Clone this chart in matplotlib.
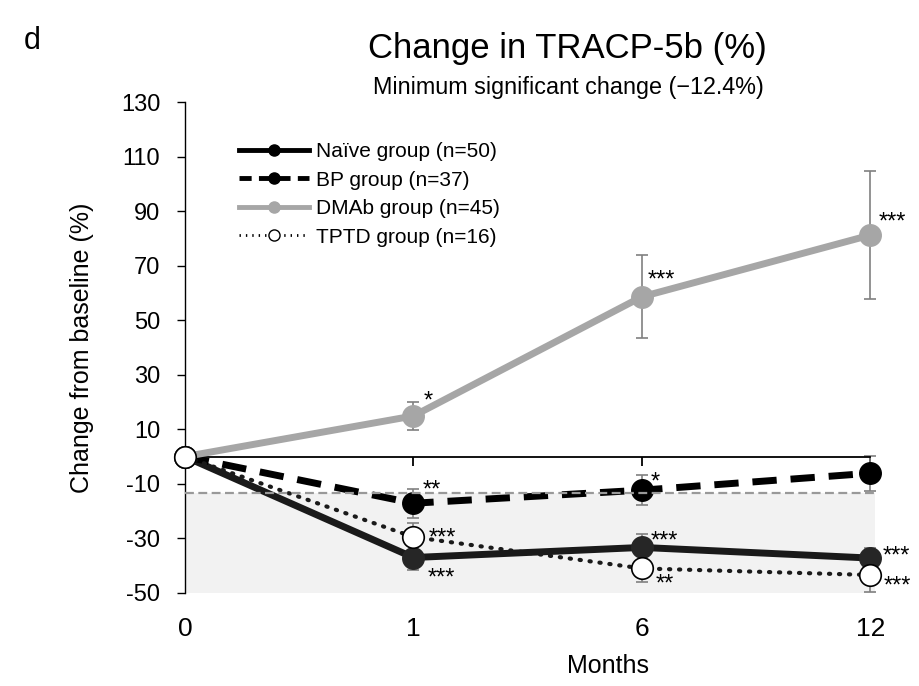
import numpy as np
import matplotlib.pyplot as plt
from matplotlib.lines import Line2D

plt.rcParams['font.family'] = ['Liberation Sans', 'DejaVu Sans']

months = ['0', '1', '6', '12']
naive = [0, -37.0, -33.3, -37.2]
naive_err = [0, 4.4, 4.8, 3.8]
bp = [0, -17.1, -12.3, -6.1]
bp_err = [0, 5.3, 5.6, 6.4]
dmab = [0, 14.9, 58.6, 81.2]
dmab_err = [0, 5.3, 15.2, 23.5]
tptd = [0, -29.5, -41.0, -43.4]
tptd_err = [0, 5.2, 4.8, 6.1]
msc = -13.3

labels = ['Naïve group (n=50)', 'BP group (n=37)', 'DMAb group (n=45)', 'TPTD group (n=16)']

# significance marks: (series, month index, text, dx px, dy px)
stars = [
    ('dmab', 1, '*', 10, -22), ('bp', 1, '**', 9, -20),
    ('tptd', 1, '***', 15, -6), ('naive', 1, '***', 14, 14),
    ('dmab', 2, '***', 6, -24), ('bp', 2, '*', 9, -15),
    ('naive', 2, '***', 9, -13), ('tptd', 2, '**', 14, 9),
    ('dmab', 3, '***', 8, -20), ('naive', 3, '***', 12, -9),
    ('tptd', 3, '***', 13, 4),
]

x = np.arange(len(months))
series = {'naive': naive, 'bp': bp, 'dmab': dmab, 'tptd': tptd}

fig = plt.figure(figsize=(9.2, 6.86), dpi=100)
ax = fig.add_axes([0.201, 0.1356, 0.75, 0.7157])

ax.fill_between([0, 3.02], -50, msc, color='#f2f2f2', lw=0, zorder=0)
ax.plot([0, 3.02], [msc, msc], color='#999999', lw=1.6, ls=(0, (4, 2)), zorder=8, clip_on=False)

ek = dict(fmt='none', ecolor='#808080', elinewidth=1.2, capsize=4.5, capthick=1.2, zorder=2)
ax.errorbar(x[1:], naive[1:], yerr=naive_err[1:], **ek)
ax.errorbar(x[1:], bp[1:], yerr=bp_err[1:], **ek)
ax.errorbar(x[1:], dmab[1:], yerr=dmab_err[1:], **ek)
ax.errorbar(x[1:], tptd[1:], yerr=tptd_err[1:], **ek)

ax.plot(x, naive, color='#1a1a1a', lw=5, marker='o', ms=15.5, mfc='#262626', mec='#262626', zorder=4, clip_on=False)
ax.plot(x, bp, color='black', lw=5, ls=(0, (3.5, 2)), marker='o', ms=15.5, mfc='black', mec='black', zorder=5, clip_on=False)
ax.plot(x, dmab, color='#a6a6a6', lw=5, marker='o', ms=15.5, mfc='#a6a6a6', mec='#a6a6a6', zorder=6, clip_on=False)
ax.plot(x, tptd, color='#1a1a1a', lw=3, ls=(0, (0.3, 2.1)), dash_capstyle='round', marker='o', ms=15.5,
        mfc='white', mec='black', mew=1.2, zorder=7, clip_on=False)

for name, i, s, dx, dy in stars:
    ax.annotate(s, (x[i], series[name][i]), xytext=(dx * 0.72, -(dy + 7.5) * 0.72), textcoords='offset points',
                ha='left', va='center', fontsize=17, zorder=9, annotation_clip=False)

ax.set_xlim(0, 3.02)
ax.set_ylim(-50, 130)
ax.set_yticks(np.arange(-50, 131, 20))
ax.set_yticklabels([str(v) for v in range(-50, 131, 20)])
ax.set_xticks(x)
ax.set_xticklabels(months)
ax.spines['top'].set_visible(False)
ax.spines['right'].set_visible(False)
ax.spines['bottom'].set_position(('data', 0))
ax.spines['bottom'].set_bounds(0, 3)
ax.spines['bottom'].set_linewidth(1.3)
ax.spines['left'].set_linewidth(1.0)
ax.tick_params(axis='y', direction='out', length=5.8, width=1, labelsize=17, pad=12)
ax.tick_params(axis='x', direction='out', length=6.5, width=1.3, labelsize=19, pad=109)

ax.set_ylabel('Change from baseline (%)', fontsize=18)
ax.yaxis.set_label_coords(-0.132, 0.5)
ax.text(0.613, -0.148, 'Months', transform=ax.transAxes, ha='center', va='center', fontsize=18)

fig.text(0.617, 0.93, 'Change in TRACP-5b (%)', ha='center', va='center', fontsize=25)
fig.text(0.618, 0.873, 'Minimum significant change (\u221212.4%)', ha='center', va='center', fontsize=16.8)
fig.text(0.035, 0.94, 'd', ha='center', va='center', fontsize=22)

handles = [
    Line2D([], [], color='black', lw=3.5, marker='o', ms=8),
    Line2D([], [], color='black', lw=3.5, ls=(0, (2.5, 1.5)), marker='o', ms=8),
    Line2D([], [], color='#a6a6a6', lw=3.5, marker='o', ms=8),
    Line2D([], [], color='black', lw=2, ls=(0, (0.5, 1.8)), marker='o', ms=8, mfc='white', mec='black'),
]
ax.legend(handles, labels, loc='upper left', bbox_to_anchor=(0.078, 0.9185), frameon=False, fontsize=15,
          handlelength=3.37, handletextpad=0.34, labelspacing=0.457, borderpad=0, borderaxespad=0)

fig.savefig('out.png', dpi=100)
